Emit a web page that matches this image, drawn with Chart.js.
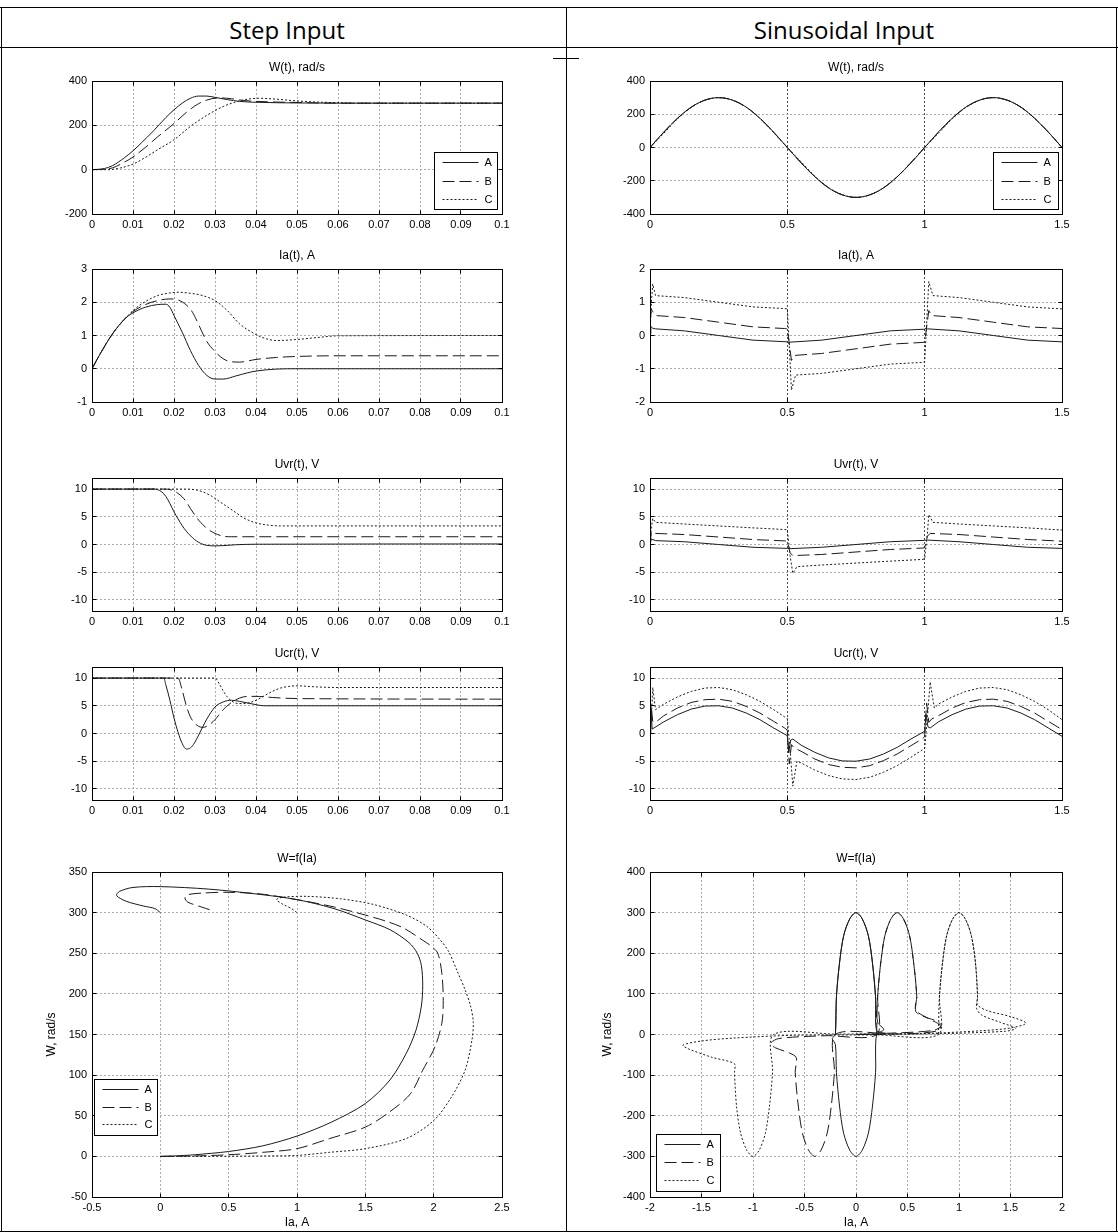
<!DOCTYPE html>
<html><head><meta charset="utf-8">
<script src="https://cdn.jsdelivr.net/npm/chart.js@4/dist/chart.umd.min.js"></script>
<style>
html,body{margin:0;padding:0;background:#fff;}
body{width:1118px;height:1232px;position:relative;overflow:hidden;}
.ln{position:absolute;background:#000;}
.hd{position:absolute;top:10px;line-height:40px;font-family:"Open Sans";font-size:24px;color:#000;text-align:center;white-space:nowrap;}
canvas{position:absolute;}
</style></head><body>
<div class="ln" style="left:0;top:7px;width:1118px;height:1px"></div>
<div class="ln" style="left:0;top:47px;width:1118px;height:1px"></div>
<div class="ln" style="left:1px;top:7px;width:1px;height:1225px"></div>
<div class="ln" style="left:566px;top:7px;width:1px;height:1225px"></div>
<div class="ln" style="left:1116px;top:7px;width:1px;height:1225px"></div>
<div class="ln" style="left:553px;top:58px;width:26px;height:1px"></div>
<div class="ln" style="left:0;top:1231px;width:1118px;height:1px"></div>
<div class="hd" style="left:4px;width:566px">Step Input</div>
<div class="hd" style="left:570px;width:548px">Sinusoidal Input</div>
<script>
// ---------- categories / tick labels ----------
const seriesNames = ['A', 'B', 'C'];
const stepTimeTicks = [0,0.01,0.02,0.03,0.04,0.05,0.06,0.07,0.08,0.09,0.1];
const sinTimeTicks = [0,0.5,1,1.5];
const wStepTicks = [-200,0,200,400];
const iaStepTicks = [-1,0,1,2,3];
const voltTicks = [-12,-10,-5,0,5,10,12];
const voltTickLabels = [-10,-5,0,5,10];
const wiStepXTicks = [-0.5,0,0.5,1,1.5,2,2.5];
const wiStepYTicks = [-50,0,50,100,150,200,250,300,350];
const wSinTicks = [-400,-200,0,200,400];
const iaSinTicks = [-2,-1,0,1,2];
const wiSinXTicks = [-2,-1.5,-1,-0.5,0,0.5,1,1.5,2];
const wiSinYTicks = [-400,-300,-200,-100,0,100,200,300,400];

// ---------- Step input: W(t) ----------
const wStepTA = [0,0.003,0.005,0.008,0.01,0.012,0.015,0.018,0.02,0.022,0.024,0.026,0.028,0.03,0.033,0.036,0.04,0.045,0.05,0.06,0.1];
const wStepA  = [0,5,18,55,85,120,175,235,270,300,322,332,332,326,316,308,304,302,301,300,300];
const wStepTB = [0,0.003,0.005,0.008,0.01,0.013,0.016,0.02,0.023,0.026,0.028,0.031,0.034,0.037,0.04,0.045,0.05,0.055,0.065,0.1];
const wStepB  = [0,2,8,35,57,100,148,208,258,298,314,324,320,312,308,305,303,301,300,300];
const wStepTC = [0,0.004,0.007,0.01,0.013,0.016,0.02,0.024,0.028,0.032,0.035,0.038,0.041,0.045,0.05,0.055,0.06,0.065,0.1];
const wStepC  = [0,0,8,25,55,90,135,195,245,285,305,318,322,318,310,305,302,300,300];

// ---------- Step input: Ia(t) ----------
const iaStepTA = [0,0.002,0.005,0.008,0.01,0.013,0.016,0.018,0.019,0.02,0.022,0.024,0.026,0.028,0.03,0.032,0.035,0.038,0.04,0.045,0.05,0.1];
const iaStepA  = [0,0.45,1.05,1.5,1.68,1.85,1.93,1.94,1.85,1.6,1.1,0.55,0.1,-0.2,-0.31,-0.31,-0.22,-0.12,-0.07,-0.01,0,0];
const iaStepTB = [0,0.002,0.005,0.008,0.01,0.013,0.016,0.019,0.021,0.023,0.0245,0.026,0.028,0.03,0.032,0.034,0.036,0.04,0.045,0.05,0.06,0.1];
const iaStepB  = [0,0.45,1.05,1.5,1.72,1.93,2.05,2.1,2.07,1.92,1.7,1.33,0.82,0.52,0.3,0.21,0.2,0.28,0.34,0.37,0.39,0.39];
const iaStepTC = [0,0.002,0.005,0.008,0.01,0.013,0.016,0.019,0.021,0.024,0.027,0.03,0.033,0.036,0.04,0.042,0.045,0.05,0.055,0.06,0.1];
const iaStepC  = [0,0.45,1.05,1.5,1.75,2.02,2.2,2.28,2.3,2.27,2.2,2.05,1.75,1.35,1.03,0.92,0.85,0.88,0.94,0.99,1.0];

// ---------- Step input: Uvr(t) ----------
const uvrStepTA = [0,0.015,0.016,0.017,0.018,0.019,0.02,0.021,0.022,0.023,0.024,0.025,0.026,0.027,0.028,0.03,0.032,0.035,0.04,0.1];
const uvrStepA  = [10,10,9.9,9.5,8.7,7.4,5.9,4.6,3.4,2.4,1.6,0.9,0.4,0.05,-0.15,-0.25,-0.2,-0.05,0.05,0.1];
const uvrStepTB = [0,0.018,0.019,0.02,0.021,0.022,0.023,0.024,0.025,0.026,0.027,0.028,0.03,0.032,0.034,0.1];
const uvrStepB  = [10,10,9.9,9.7,9.2,8.6,7.7,6.5,5.4,4.4,3.6,2.9,2.0,1.5,1.4,1.4];
const uvrStepTC = [0,0.022,0.025,0.027,0.029,0.031,0.033,0.035,0.037,0.04,0.043,0.046,0.1];
const uvrStepC  = [10,10,9.9,9.5,8.8,7.8,6.8,5.8,4.8,3.9,3.5,3.35,3.35];

// ---------- Step input: Ucr(t) ----------
const ucrStepTA = [0,0.0175,0.018,0.019,0.02,0.021,0.022,0.023,0.024,0.025,0.026,0.027,0.028,0.029,0.03,0.032,0.034,0.036,0.038,0.04,0.042,0.1];
const ucrStepA  = [10,10,8.8,6,2.8,0.2,-1.8,-2.8,-2.6,-1.7,-0.3,1.2,2.6,3.8,4.8,5.7,6.0,5.8,5.5,5.2,5.0,5.0];
const ucrStepTB = [0,0.021,0.022,0.023,0.024,0.025,0.026,0.027,0.028,0.029,0.03,0.031,0.032,0.033,0.034,0.036,0.038,0.04,0.044,0.05,0.1];
const ucrStepB  = [10,10,7.8,5,3,1.9,1.3,1.1,1.3,1.8,2.5,3.4,4.3,5.0,5.6,6.4,6.7,6.7,6.5,6.3,6.2];
const ucrStepTC = [0,0.03,0.031,0.032,0.033,0.034,0.035,0.036,0.038,0.04,0.042,0.044,0.046,0.048,0.05,0.055,0.06,0.1];
const ucrStepC  = [10,10,9,7.7,6.6,5.9,5.5,5.4,5.5,6.0,6.8,7.6,8.2,8.5,8.6,8.4,8.3,8.3];

// ---------- Step input: W = f(Ia) ----------
const wiStepAx = [0,0.1,0.25,0.5,0.75,1,1.25,1.5,1.68,1.8,1.87,1.91,1.92,1.91,1.88,1.82,1.68,1.5,1.27,1,0.7,0.35,0,-0.2,-0.3,-0.32,-0.25,-0.12,-0.04,0];
const wiStepAy = [0,0.5,2,6,13,25,42,65,94,127,155,185,210,235,250,263,279,291,305,316,323,329,332,331,326,321,314,308,305,300];
const wiStepBx = [0,0.25,0.5,0.75,1,1.24,1.5,1.68,1.83,1.92,2.01,2.06,2.07,2.06,2.03,1.98,1.92,1.78,1.66,1.5,1.27,1,0.73,0.5,0.3,0.2,0.18,0.2,0.3,0.39];
const wiStepBy = [0,0.5,2,5,9.5,22,36,55,77,106,135,164,192,225,250,259,266,281,289,297,307,316,323,325,324,322,318,313,307,302];
const wiStepCx = [0,0.25,0.5,0.75,1,1.24,1.5,1.8,2.0,2.13,2.23,2.28,2.29,2.27,2.23,2.17,2.11,2.05,1.95,1.8,1.56,1.32,1.07,0.9,0.85,0.9,0.96,1.0];
const wiStepCy = [0,0,0.2,0.5,1.2,5,9.5,22,44,73,106,143,165,185,205,229,252,266,283,297,310,317,320,319,316,310,305,300];

// ---------- Sinusoidal input: W(t) ----------
const wSinT = [0,0.05,0.1,0.15,0.2,0.25,0.3,0.35,0.4,0.45,0.5,0.55,0.6,0.65,0.7,0.75,0.8,0.85,0.9,0.95,1,1.05,1.1,1.15,1.2,1.25,1.3,1.35,1.4,1.45,1.5];
const wSinA = [0,93,176,243,285,300,285,243,176,93,0,-93,-176,-243,-285,-300,-285,-243,-176,-93,0,93,176,243,285,300,285,243,176,93,0];
const wSinB = [0,91,175,242,285,300,285,243,176,91,0,-91,-175,-242,-285,-300,-285,-243,-176,-91,0,91,175,242,285,300,285,243,176,93,0];
const wSinC = [0,85,172,241,284,300,285,243,176,90,0,-86,-172,-241,-284,-300,-285,-243,-176,-90,0,86,172,241,284,300,285,243,176,92,0];

// ---------- Sinusoidal input: Ia(t) ----------
const iaSinTA = [0,0.003,0.01,0.02,0.125,0.25,0.375,0.5,0.505,0.51,0.625,0.75,0.875,1,1.005,1.01,1.125,1.25,1.375,1.5];
const iaSinA  = [0.05,0.27,0.22,0.2,0.14,0,-0.14,-0.19,-0.23,-0.2,-0.14,0,0.14,0.19,0.23,0.2,0.14,0,-0.14,-0.19];
const iaSinTB = [0,0.004,0.01,0.02,0.125,0.25,0.375,0.49,0.5,0.508,0.515,0.525,0.625,0.75,0.875,0.99,1.0,1.008,1.015,1.025,1.125,1.25,1.375,1.5];
const iaSinB  = [0.05,0.8,0.72,0.6,0.54,0.4,0.26,0.21,0.2,-0.3,-0.75,-0.6,-0.54,-0.4,-0.26,-0.21,-0.2,0.3,0.75,0.6,0.54,0.4,0.26,0.21];
const iaSinTC = [0,0.005,0.01,0.02,0.125,0.25,0.375,0.49,0.5,0.508,0.515,0.53,0.625,0.75,0.875,0.99,1.0,1.008,1.015,1.03,1.125,1.25,1.375,1.5];
const iaSinC  = [0.05,1.0,1.55,1.2,1.14,1.0,0.86,0.81,0.8,-0.5,-1.64,-1.19,-1.14,-1.0,-0.86,-0.81,-0.8,0.5,1.62,1.2,1.14,1.0,0.86,0.8];

// ---------- Sinusoidal input: Uvr(t) ----------
const uvrSinTA = [0,0.005,0.02,0.125,0.25,0.375,0.5,0.51,0.625,0.75,0.875,1.0,1.01,1.125,1.25,1.375,1.5];
const uvrSinA  = [0,1.0,0.7,0.5,0,-0.5,-0.7,-0.75,-0.5,0,0.5,0.75,0.8,0.5,0,-0.5,-0.7];
const uvrSinTB = [0,0.005,0.02,0.125,0.25,0.375,0.49,0.5,0.51,0.52,0.625,0.75,0.875,0.99,1.0,1.01,1.02,1.125,1.25,1.375,1.5];
const uvrSinB  = [0,2.3,2.0,1.8,1.35,0.9,0.65,0.6,-1.5,-2.0,-1.8,-1.35,-0.9,-0.65,-0.6,1.5,2.0,1.8,1.35,0.9,0.6];
const uvrSinTC = [0,0.005,0.01,0.02,0.125,0.25,0.375,0.49,0.5,0.51,0.52,0.535,0.625,0.75,0.875,0.99,1.0,1.01,1.015,1.03,1.125,1.25,1.375,1.5];
const uvrSinC  = [0,3,4.7,4.0,3.7,3.35,3.0,2.7,2.65,-2,-5.2,-4.0,-3.7,-3.35,-3.0,-2.7,-2.6,2,5.4,4.0,3.7,3.35,3.0,2.6];

// ---------- Sinusoidal input: Ucr(t) ----------
const ucrSinTA = [0,0.003,0.008,0.05,0.1,0.15,0.2,0.25,0.3,0.35,0.4,0.45,0.5,0.505,0.512,0.52,0.55,0.6,0.65,0.7,0.75,0.8,0.85,0.9,0.95,1.0,1.005,1.012,1.02,1.05,1.1,1.15,1.2,1.25,1.3,1.35,1.4,1.45,1.5];
const ucrSinA  = [0,4.5,0.8,2.1,3.4,4.4,4.95,5.0,4.6,3.7,2.5,1.0,-0.4,-3.5,-1.2,-1.0,-2.1,-3.4,-4.4,-4.95,-5.0,-4.6,-3.7,-2.5,-1.0,0.4,3.5,1.2,1.0,2.1,3.4,4.4,4.95,5.0,4.6,3.7,2.5,1.0,-0.5];
const ucrSinTB = [0,0.004,0.01,0.02,0.05,0.1,0.15,0.2,0.25,0.3,0.35,0.4,0.45,0.49,0.5,0.507,0.515,0.525,0.55,0.6,0.65,0.7,0.75,0.8,0.85,0.9,0.95,0.99,1.0,1.007,1.015,1.025,1.05,1.1,1.15,1.2,1.25,1.3,1.35,1.4,1.45,1.5];
const ucrSinB  = [0,5.2,2.2,2.0,3.2,4.6,5.6,6.1,6.2,5.8,4.9,3.7,2.2,1.0,0.6,-5.5,-2.0,-2.6,-3.2,-4.6,-5.6,-6.1,-6.2,-5.8,-4.9,-3.7,-2.2,-1.0,-0.6,5.5,2.0,2.6,3.2,4.6,5.6,6.1,6.2,5.8,4.9,3.7,2.2,0.7];
const ucrSinTC = [0,0.006,0.01,0.02,0.05,0.1,0.15,0.2,0.25,0.3,0.35,0.4,0.45,0.49,0.5,0.51,0.52,0.535,0.55,0.6,0.65,0.7,0.75,0.8,0.85,0.9,0.95,0.99,1.0,1.01,1.02,1.035,1.05,1.1,1.15,1.2,1.25,1.3,1.35,1.4,1.45,1.5];
const ucrSinC  = [0,4,8.3,4.3,5.3,6.6,7.6,8.2,8.3,7.9,7.0,5.8,4.3,3.0,2.7,-3,-9.5,-5.0,-5.3,-6.6,-7.6,-8.2,-8.3,-7.9,-7.0,-5.8,-4.3,-3.0,-2.7,3,9.3,4.6,5.3,6.6,7.6,8.2,8.3,7.9,7.0,5.8,4.3,2.5];

// ---------- Sinusoidal input: W = f(Ia) ----------
const wiSinAx = [0,0.28,0.2,0.19,0.16,0.12,0.06,0,-0.06,-0.12,-0.16,-0.19,-0.2,-0.23,-0.2,-0.19,-0.16,-0.12,-0.06,0,0.06,0.12,0.16,0.19,0.2,0.27,0.21,0.19,0.16,0.12,0.06,0,-0.06,-0.12,-0.16,-0.19,-0.2];
const wiSinAy = [0,3,10,93,176,243,285,300,285,243,176,93,0,-10,-25,-93,-176,-243,-285,-300,-285,-243,-176,-93,0,12,30,93,176,243,285,300,285,243,176,93,0];
const wiSinBx = [0,0.6,0.8,0.82,0.7,0.58,0.59,0.56,0.52,0.46,0.4,0.34,0.28,0.24,0.21,0.2,-0.3,-0.75,-0.83,-0.78,-0.65,-0.58,-0.59,-0.56,-0.52,-0.46,-0.4,-0.34,-0.28,-0.24,-0.21,-0.2,0.3,0.75,0.83,0.78,0.65,0.58,0.59,0.56,0.52,0.46,0.4,0.34,0.28,0.24,0.21,0.2];
const wiSinBy = [0,3,10,22,40,60,93,176,243,285,300,285,243,176,93,0,-3,-10,-22,-33,-45,-57,-93,-176,-243,-285,-300,-285,-243,-176,-93,0,3,10,22,33,45,57,93,176,243,285,300,285,243,176,93,0];
const wiSinCx = [0,0.8,1.45,1.55,1.4,1.22,1.17,1.18,1.16,1.12,1.06,1.0,0.94,0.88,0.84,0.81,0.8,0.2,-0.6,-1.2,-1.5,-1.68,-1.63,-1.4,-1.18,-1.18,-1.16,-1.12,-1.06,-1.0,-0.94,-0.88,-0.84,-0.81,-0.8,-0.2,0.6,1.2,1.5,1.65,1.5,1.27,1.18,1.18,1.16,1.12,1.06,1.0,0.94,0.88,0.84,0.81,0.8];
const wiSinCy = [0,2,8,15,30,48,65,93,176,243,285,300,285,243,176,93,0,-1,-2,-9,-16,-26,-35,-56,-72,-93,-176,-243,-285,-300,-285,-243,-176,-93,0,1,2,9,16,28,44,59,73,93,176,243,285,300,285,243,176,93,0];

// ---------- rendering helpers ----------
const FONT = '"Liberation Sans", Arial, sans-serif';
Chart.defaults.font.family = FONT;
const DASHES = [[], [12, 5], [2, 2]];

function xy(xs, ys) { return xs.map((x, i) => ({x: x, y: ys[i]})); }
// mode: 'time' -> monotone cubic along time axis; 'curve' -> parametric spline; 'linear' -> straight segments
function makeSets(pairs, mode) {
  return pairs.map((p, i) => ({
    label: seriesNames[i], data: xy(p[0], p[1]),
    borderColor: '#1a1a1a', borderWidth: 1, borderDash: DASHES[i],
    pointRadius: 0, fill: false,
    tension: mode === 'curve' ? 0.3 : 0,
    cubicInterpolationMode: mode === 'time' ? 'monotone' : 'default'
  }));
}
const al = p => Math.round(p - 0.5) + 0.5;

const framePlugin = {
  id: 'frame',
  afterDatasetsDraw(chart) {
    const {ctx, chartArea: ca, scales} = chart;
    const l = al(ca.left), r = al(ca.right), t = al(ca.top), b = al(ca.bottom);
    ctx.save();
    ctx.strokeStyle = '#000'; ctx.lineWidth = 1; ctx.setLineDash([]);
    ctx.beginPath();
    scales.x.ticks.forEach(tk => {
      const px = al(scales.x.getPixelForValue(tk.value));
      ctx.moveTo(px, b); ctx.lineTo(px, b - 4);
      ctx.moveTo(px, t); ctx.lineTo(px, t + 4);
    });
    scales.y.ticks.forEach(tk => {
      const py = al(scales.y.getPixelForValue(tk.value));
      ctx.moveTo(l, py); ctx.lineTo(l + 4, py);
      ctx.moveTo(r, py); ctx.lineTo(r - 4, py);
    });
    ctx.stroke();
    ctx.strokeRect(l, t, r - l, b - t);
    ctx.restore();
  }
};

const legendPlugin = {
  id: 'boxLegend',
  afterDraw(chart, args, opts) {
    if (!opts || !opts.show) return;
    const {ctx, chartArea: ca} = chart;
    const x0 = opts.fromRight !== undefined ? ca.right - opts.fromRight - opts.w : ca.left + opts.fromLeft;
    const x = al(x0), y = al(ca.top + opts.fromTop);
    ctx.save();
    ctx.fillStyle = '#fff'; ctx.fillRect(x, y, opts.w, opts.h);
    ctx.strokeStyle = '#000'; ctx.lineWidth = 1; ctx.setLineDash([]);
    ctx.strokeRect(x, y, opts.w, opts.h);
    chart.data.datasets.forEach((ds, i) => {
      const yy = al(y + 10 + i * opts.row);
      ctx.strokeStyle = '#1a1a1a';
      ctx.setLineDash(ds.borderDash || []);
      ctx.beginPath(); ctx.moveTo(x + 8, yy); ctx.lineTo(x + 44, yy); ctx.stroke();
      ctx.setLineDash([]);
      ctx.fillStyle = '#000'; ctx.font = '11px ' + FONT;
      ctx.textBaseline = 'middle'; ctx.textAlign = 'left';
      ctx.fillText(ds.label, x + 50, yy + 0.5);
    });
    ctx.restore();
  }
};

function plot(g, o) {
  const yw = 52, xb = g.xb, rightPad = 18;
  const W = yw + g.w + rightPad, H = 26 + g.h + xb;
  const cv = document.createElement('canvas');
  cv.width = W; cv.height = H;
  cv.style.left = (g.left - yw) + 'px'; cv.style.top = (g.top - 26) + 'px';
  cv.style.width = W + 'px'; cv.style.height = H + 'px';
  document.body.appendChild(cv);
  const tickFont = {family: FONT, size: 11};
  const titleFont = {family: FONT, size: 12, weight: 'normal', lineHeight: 1};
  new Chart(cv, {
    type: 'line',
    data: {datasets: o.datasets},
    options: {
      responsive: false, animation: false, devicePixelRatio: 1, events: [],
      layout: {padding: {left: 0, right: rightPad, top: 0, bottom: 0}},
      plugins: {
        legend: {display: false}, tooltip: {enabled: false},
        title: {display: true, text: o.title, fullSize: false, color: '#000', font: titleFont, padding: {top: 7, bottom: 7}},
        boxLegend: o.legend || {show: false}
      },
      scales: {
        x: {
          type: 'linear', min: o.xTicks[0], max: o.xTicks[o.xTicks.length - 1],
          afterBuildTicks: s => { s.ticks = o.xTicks.map(v => ({value: v})); },
          afterFit: s => { s.height = xb; },
          ticks: {autoSkip: false, maxRotation: 0, minRotation: 0, padding: 4, color: '#000', font: tickFont,
                  callback: v => String(v)},
          grid: {color: o.xGrid || '#ababab', drawTicks: false, lineWidth: 1},
          border: {display: false, dash: [2, 2]},
          title: o.xTitle ? {display: true, text: o.xTitle, color: '#000', font: titleFont, padding: {top: 0, bottom: 3}} : {display: false}
        },
        y: {
          type: 'linear', min: o.yTicks[0], max: o.yTicks[o.yTicks.length - 1],
          afterBuildTicks: s => { s.ticks = o.yTicks.map(v => ({value: v})); },
          afterFit: s => { s.width = yw; },
          ticks: {autoSkip: false, padding: 5, color: '#000', font: tickFont,
                  callback: v => (o.yLabels && o.yLabels.indexOf(v) < 0) ? '' : String(v)},
          grid: {color: '#ababab', drawTicks: false, lineWidth: 1},
          border: {display: false, dash: [2, 2]},
          title: o.yTitle ? {display: true, text: o.yTitle, color: '#000', font: titleFont, padding: {top: o.yTitlePad, bottom: 0}} : {display: false}
        }
      }
    },
    plugins: [framePlugin, legendPlugin]
  });
}

const L = {left: 92, w: 410}, R = {left: 650, w: 412};
const rowTops = [81, 269, 478, 667, 872];
const g = (c, r) => ({left: c.left, w: c.w, top: rowTops[r], h: r === 4 ? 325 : 133, xb: r === 4 ? 35 : 26});

// Step column
plot(g(L, 0), {title: 'W(t), rad/s', xTicks: stepTimeTicks, yTicks: wStepTicks,
  datasets: makeSets([[wStepTA, wStepA], [wStepTB, wStepB], [wStepTC, wStepC]], 'time'),
  legend: {show: true, fromRight: 5, fromTop: 71, w: 63, h: 57, row: 18.5}});
plot(g(L, 1), {title: 'Ia(t), A', xTicks: stepTimeTicks, yTicks: iaStepTicks,
  datasets: makeSets([[iaStepTA, iaStepA], [iaStepTB, iaStepB], [iaStepTC, iaStepC]], 'time')});
plot(g(L, 2), {title: 'Uvr(t), V', xTicks: stepTimeTicks, yTicks: voltTicks, yLabels: voltTickLabels,
  datasets: makeSets([[uvrStepTA, uvrStepA], [uvrStepTB, uvrStepB], [uvrStepTC, uvrStepC]], 'time')});
plot(g(L, 3), {title: 'Ucr(t), V', xTicks: stepTimeTicks, yTicks: voltTicks, yLabels: voltTickLabels,
  datasets: makeSets([[ucrStepTA, ucrStepA], [ucrStepTB, ucrStepB], [ucrStepTC, ucrStepC]], 'time')});
plot(g(L, 4), {title: 'W=f(Ia)', xTicks: wiStepXTicks, yTicks: wiStepYTicks, xTitle: 'Ia, A', yTitle: 'W, rad/s', yTitlePad: 6,
  datasets: makeSets([[wiStepAx, wiStepAy], [wiStepBx, wiStepBy], [wiStepCx, wiStepCy]], 'curve'),
  legend: {show: true, fromLeft: 2, fromTop: 207, w: 63, h: 56, row: 17.5}});

// Sinusoidal column
const dark = '#4a4a4a';
plot(g(R, 0), {title: 'W(t), rad/s', xTicks: sinTimeTicks, yTicks: wSinTicks, xGrid: dark,
  datasets: makeSets([[wSinT, wSinA], [wSinT, wSinB], [wSinT, wSinC]], 'time'),
  legend: {show: true, fromRight: 4, fromTop: 71, w: 65, h: 57, row: 18.5}});
plot(g(R, 1), {title: 'Ia(t), A', xTicks: sinTimeTicks, yTicks: iaSinTicks, xGrid: dark,
  datasets: makeSets([[iaSinTA, iaSinA], [iaSinTB, iaSinB], [iaSinTC, iaSinC]], 'linear')});
plot(g(R, 2), {title: 'Uvr(t), V', xTicks: sinTimeTicks, yTicks: voltTicks, yLabels: voltTickLabels, xGrid: dark,
  datasets: makeSets([[uvrSinTA, uvrSinA], [uvrSinTB, uvrSinB], [uvrSinTC, uvrSinC]], 'linear')});
plot(g(R, 3), {title: 'Ucr(t), V', xTicks: sinTimeTicks, yTicks: voltTicks, yLabels: voltTickLabels, xGrid: dark,
  datasets: makeSets([[ucrSinTA, ucrSinA], [ucrSinTB, ucrSinB], [ucrSinTC, ucrSinC]], 'linear')});
plot(g(R, 4), {title: 'W=f(Ia)', xTicks: wiSinXTicks, yTicks: wiSinYTicks, xTitle: 'Ia, A', yTitle: 'W, rad/s', yTitlePad: 4,
  datasets: makeSets([[wiSinAx, wiSinAy], [wiSinBx, wiSinBy], [wiSinCx, wiSinCy]], 'curve'),
  legend: {show: true, fromLeft: 6, fromTop: 262, w: 64, h: 57, row: 18}});
</script>
</body></html>
